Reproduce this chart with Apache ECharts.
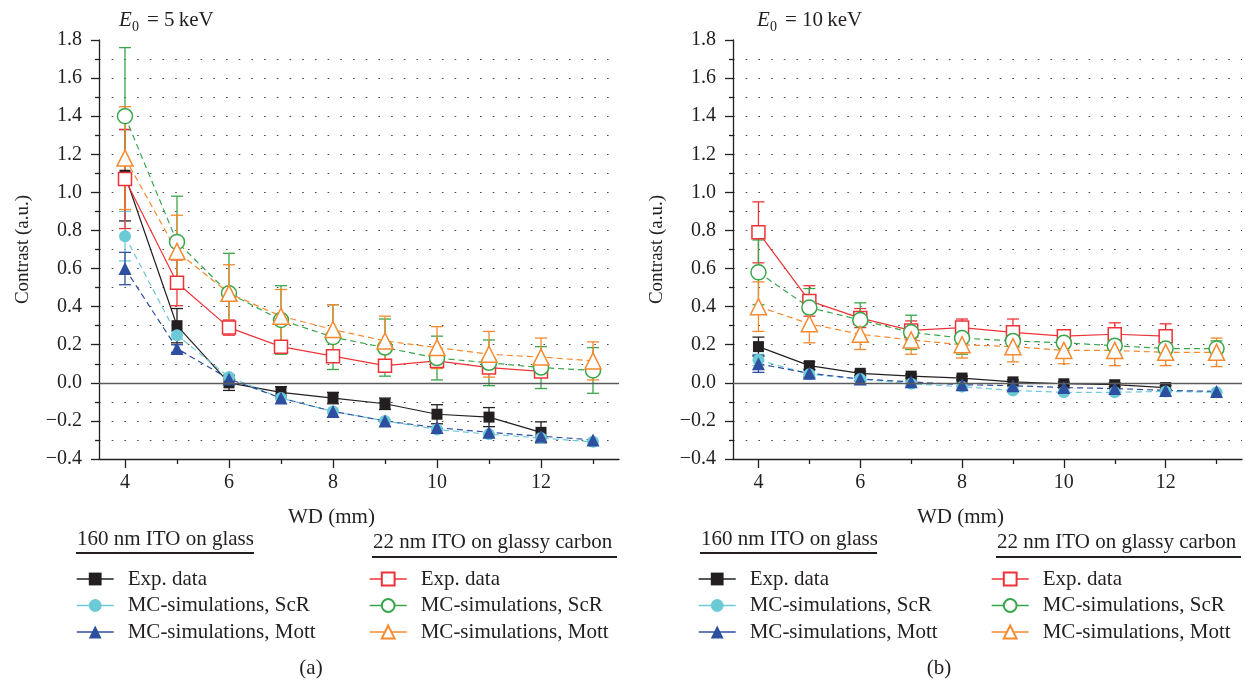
<!DOCTYPE html>
<html>
<head>
<meta charset="utf-8">
<script src="https://cdn.jsdelivr.net/npm/echarts@6/dist/echarts.min.js"></script>
<style>
html, body { margin: 0; padding: 0; background: #fff; }
#chart { width: 1245px; height: 682px; }
</style>
</head>
<body>
<div id="chart"></div>
<script>
// Working distance (mm)
const wd = [4, 5, 6, 7, 8, 9, 10, 11, 12, 13];

// Contrast at E0 = 5 keV — 160 nm ITO on glass
const a_glassExp      = [1.09, 0.30, 0.00, -0.05, -0.08, -0.11, -0.165, -0.18, -0.26, null];
const a_glassExpErr   = [0.24, 0.09, 0.04, 0.03, 0.03, 0.03, 0.05, 0.05, 0.055, null];
const a_glassScR      = [0.77, 0.25, 0.03, -0.08, -0.15, -0.20, -0.245, -0.27, -0.29, -0.31];
const a_glassScRErr   = [0.13, 0.02, 0, 0, 0, 0, 0, 0, 0, 0];
const a_glassMott     = [0.60, 0.18, 0.02, -0.08, -0.15, -0.20, -0.235, -0.26, -0.28, -0.30];
const a_glassMottErr  = [0.085, 0.02, 0, 0, 0, 0, 0, 0, 0, 0];
// Contrast at E0 = 5 keV — 22 nm ITO on glassy carbon
const a_carbonExp     = [1.07, 0.525, 0.29, 0.19, 0.14, 0.09, 0.115, 0.08, 0.06, null];
const a_carbonExpErr  = [0.26, 0.12, 0.04, 0.03, 0.03, 0.03, 0.02, 0.02, 0.02, null];
const a_carbonScR     = [1.40, 0.74, 0.47, 0.33, 0.24, 0.185, 0.13, 0.105, 0.08, 0.065];
const a_carbonScRErr  = [0.36, 0.24, 0.21, 0.18, 0.17, 0.15, 0.115, 0.12, 0.11, 0.12];
const a_carbonMott    = [1.18, 0.69, 0.47, 0.35, 0.28, 0.22, 0.185, 0.15, 0.135, 0.115];
const a_carbonMottErr = [0.27, 0.19, 0.15, 0.14, 0.13, 0.13, 0.11, 0.12, 0.10, 0.10];

// Contrast at E0 = 10 keV — 160 nm ITO on glass
const b_glassExp      = [0.19, 0.09, 0.05, 0.035, 0.025, 0.005, -0.005, -0.01, -0.025, null];
const b_glassExpErr   = [0.05, 0.02, 0.01, 0.01, 0.01, 0.01, 0.01, 0.01, 0.01, null];
const b_glassScR      = [0.12, 0.045, 0.02, -0.005, -0.02, -0.04, -0.05, -0.05, -0.045, -0.05];
const b_glassScRErr   = [0.03, 0.02, 0.01, 0, 0, 0, 0, 0, 0, 0];
const b_glassMott     = [0.10, 0.05, 0.02, 0.005, -0.01, -0.015, -0.025, -0.03, -0.04, -0.045];
const b_glassMottErr  = [0.045, 0.02, 0.01, 0, 0, 0, 0, 0, 0, 0];
// Contrast at E0 = 10 keV — 22 nm ITO on glassy carbon
const b_carbonExp     = [0.79, 0.43, 0.34, 0.275, 0.29, 0.265, 0.245, 0.255, 0.245, null];
const b_carbonExpErr  = [0.16, 0.08, 0.05, 0.05, 0.045, 0.07, 0.025, 0.06, 0.065, null];
const b_carbonScR     = [0.58, 0.395, 0.33, 0.265, 0.235, 0.22, 0.21, 0.195, 0.18, 0.18];
const b_carbonScRErr  = [0.17, 0.10, 0.09, 0.09, 0.085, 0.06, 0.06, 0.05, 0.05, 0.04];
const b_carbonMott    = [0.40, 0.31, 0.255, 0.225, 0.20, 0.19, 0.17, 0.17, 0.16, 0.16];
const b_carbonMottErr = [0.13, 0.10, 0.08, 0.075, 0.07, 0.08, 0.07, 0.08, 0.07, 0.075];

// Axis ticks
const xMajorTicks = [4, 6, 8, 10, 12];
const xMinorTicks = [5, 7, 9, 11, 13];

// Texts
const legendLabels = ['Exp. data', 'MC-simulations, ScR', 'MC-simulations, Mott'];
const groupTitles = ['160 nm ITO on glass', '22 nm ITO on glassy carbon'];

const FONT = "'Liberation Serif', 'Times New Roman', serif";
const INK = '#231f20';
const C = {
  black: '#231f20', cyan: '#6ccad6', blue: '#2e4f9f',
  red: '#ee3338', green: '#3aa64b', orange: '#f6892e'
};

const styles = {
  glassExp:   { color: C.black,  symbol: 'rect',     size: 11, hollow: false, dash: 'solid' },
  glassScR:   { color: C.cyan,   symbol: 'circle',   size: 12, hollow: false, dash: [6, 4] },
  glassMott:  { color: C.blue,   symbol: 'triangle', size: 13, hollow: false, dash: [6, 4] },
  carbonExp:  { color: C.red,    symbol: 'rect',     size: 13, hollow: true,  dash: 'solid' },
  carbonScR:  { color: C.green,  symbol: 'circle',   size: 15, hollow: true,  dash: [6, 4] },
  carbonMott: { color: C.orange, symbol: 'triangle', size: 16, hollow: true,  dash: [6, 4] }
};

const panels = [
  { key: 'a', sets: {
      glassExp: [a_glassExp, a_glassExpErr], glassScR: [a_glassScR, a_glassScRErr],
      glassMott: [a_glassMott, a_glassMottErr], carbonExp: [a_carbonExp, a_carbonExpErr],
      carbonScR: [a_carbonScR, a_carbonScRErr], carbonMott: [a_carbonMott, a_carbonMottErr] } },
  { key: 'b', sets: {
      glassExp: [b_glassExp, b_glassExpErr], glassScR: [b_glassScR, b_glassScRErr],
      glassMott: [b_glassMott, b_glassMottErr], carbonExp: [b_carbonExp, b_carbonExpErr],
      carbonScR: [b_carbonScR, b_carbonScRErr], carbonMott: [b_carbonMott, b_carbonMottErr] } }
];

const order = ['glassExp', 'glassScR', 'glassMott', 'carbonExp', 'carbonScR', 'carbonMott'];
const displayName = {};
order.forEach((k, i) => { displayName[k] = legendLabels[i % 3]; });

function errorSeries(name, color, values, errs, xi, yi) {
  const data = [];
  values.forEach((v, i) => {
    if (v !== null && errs[i]) data.push([wd[i], v - errs[i], v + errs[i]]);
  });
  return {
    type: 'custom', name: name + '-err', xAxisIndex: xi, yAxisIndex: yi, z: 2,
    silent: true, data: data, encode: { x: 0, y: [1, 2] },
    renderItem: function (params, api) {
      const x = api.value(0);
      const p1 = api.coord([x, api.value(1)]);
      const p2 = api.coord([x, api.value(2)]);
      const w = 6;
      const st = { stroke: color, lineWidth: 1.3, fill: null };
      return { type: 'group', children: [
        { type: 'line', shape: { x1: p1[0], y1: p1[1], x2: p2[0], y2: p2[1] }, style: st },
        { type: 'line', shape: { x1: p1[0] - w, y1: p1[1], x2: p1[0] + w, y2: p1[1] }, style: st },
        { type: 'line', shape: { x1: p2[0] - w, y1: p2[1], x2: p2[0] + w, y2: p2[1] }, style: st }
      ] };
    }
  };
}

function lineSeries(name, st, values, xi, yi, withZero) {
  const data = [];
  values.forEach((v, i) => { if (v !== null) data.push([wd[i], v]); });
  const s = {
    type: 'line', name: name, xAxisIndex: xi, yAxisIndex: yi, z: 3,
    data: data, symbol: st.symbol, symbolSize: st.size, showAllSymbol: true,
    lineStyle: { color: st.color, width: 1.2, type: st.dash },
    itemStyle: st.hollow
      ? { color: '#ffffff', borderColor: st.color, borderWidth: 1.5 }
      : { color: st.color, borderWidth: 0 },
    emphasis: { disabled: true }
  };
  if (withZero) {
    s.markLine = {
      silent: true, symbol: 'none', label: { show: false }, animation: false,
      lineStyle: { color: '#5a5b5d', width: 1.3, type: 'solid' },
      data: [{ yAxis: 0 }]
    };
  }
  return s;
}

const grids = [
  { left: 99, top: 40, width: 520, height: 419 },
  { left: 733, top: 40, width: 509, height: 419 }
];

const dotted = { color: '#4a4a4a', width: 1.2, type: [1.6, 11.1] };

const xAxes = [];
const yAxes = [];
grids.forEach((g, gi) => {
  xAxes.push({
    type: 'value', gridIndex: gi, min: 3.5, max: 13.5, position: 'bottom',
    axisLine: { show: true, onZero: false, lineStyle: { color: INK, width: 1.3 } },
    axisTick: { show: true, customValues: xMajorTicks, length: 9, lineStyle: { color: INK, width: 1.3 } },
    axisLabel: { customValues: xMajorTicks, margin: 14, color: INK, fontFamily: FONT, fontSize: 20 },
    splitLine: { show: false }
  });
  xAxes.push({
    type: 'value', gridIndex: gi, min: 3.5, max: 13.5, position: 'bottom', offset: 0,
    axisLine: { show: false, onZero: false },
    axisTick: { show: true, customValues: xMinorTicks, length: 5, lineStyle: { color: INK, width: 1.3 } },
    axisLabel: { show: false },
    splitLine: { show: false }
  });
  yAxes.push({
    type: 'value', gridIndex: gi, min: -0.4, max: 1.8, interval: 0.2,
    name: 'Contrast (a.u.)', nameLocation: 'middle', nameGap: 66,
    nameTextStyle: { color: INK, fontFamily: FONT, fontSize: 19 },
    axisLine: { show: true, lineStyle: { color: INK, width: 1.3 } },
    axisTick: { show: true, length: 8, lineStyle: { color: INK, width: 1.3 } },
    minorTick: { show: true, splitNumber: 2, length: 4, lineStyle: { color: INK, width: 1.3 } },
    axisLabel: {
      margin: 17, color: INK, fontFamily: FONT, fontSize: 20,
      formatter: v => (v < 0 ? '\u2212' : '') + Math.abs(v).toFixed(1)
    },
    splitLine: { show: true, showMinLine: false, showMaxLine: false, lineStyle: dotted },
    minorSplitLine: { show: true, lineStyle: dotted }
  });
});

const series = [];
panels.forEach((p, pi) => {
  const xi = pi * 2, yi = pi;
  order.forEach(k => {
    const [vals, errs] = p.sets[k];
    series.push(errorSeries(p.key + '-' + k, styles[k].color, vals, errs, xi, yi));
  });
  order.forEach((k, i) => {
    const [vals] = p.sets[k];
    series.push(lineSeries(p.key + '-' + k, styles[k], vals, xi, yi, i === 0));
  });
});

// Legends: two groups per panel
const legendBase = {
  orient: 'vertical', itemWidth: 37, itemHeight: 16, itemGap: 4.5, padding: 0,
  selectedMode: false,
  lineStyle: { type: 'solid', width: 1.4 },
  textStyle: { color: INK, fontFamily: FONT, fontSize: 21, lineHeight: 22, padding: [0, 0, 0, 9] },
  formatter: n => displayName[n.split('-')[1]]
};
const legendPos = [
  { left: 76, keys: order.slice(0, 3), p: 'a' },
  { left: 369, keys: order.slice(3), p: 'a' },
  { left: 698, keys: order.slice(0, 3), p: 'b' },
  { left: 991, keys: order.slice(3), p: 'b' }
];
const legends = legendPos.map(l => Object.assign({}, legendBase, {
  left: l.left, top: 568, data: l.keys.map(k => l.p + '-' + k)
}));

// Annotations: energy labels, axis titles, group headers, panel tags
const txt = (x, y, text, extra) => ({
  type: 'text', x: x, y: y, silent: true,
  style: Object.assign({ text: text, fill: INK, font: '21px ' + FONT, verticalAlign: 'middle' }, extra || {})
});
const hline = (x1, x2, y, w) => ({
  type: 'line', silent: true, shape: { x1: x1, y1: y, x2: x2, y2: y },
  style: { stroke: INK, lineWidth: w }
});

const graphics = [
  txt(119, 20, 'E', { font: 'italic 21px ' + FONT }),
  txt(132, 27, '0', { font: '14px ' + FONT }),
  txt(147, 20, '= 5\u2009keV', { font: '21px ' + FONT }),
  txt(757, 20, 'E', { font: 'italic 21px ' + FONT }),
  txt(770, 27, '0', { font: '14px ' + FONT }),
  txt(785, 20, '= 10\u2009keV', { font: '21px ' + FONT }),
  txt(288, 517, 'WD (mm)'),
  txt(917, 517, 'WD (mm)'),
  txt(77, 539, groupTitles[0]),
  hline(76, 254, 553, 2),
  txt(373, 542, groupTitles[1]),
  hline(372, 617, 557, 2),
  txt(701, 539, groupTitles[0]),
  hline(700, 877, 553, 2),
  txt(997, 542, groupTitles[1]),
  hline(996, 1241, 557, 2),
  txt(311, 668, '(a)', { align: 'center' }),
  txt(939, 668, '(b)', { align: 'center' })
];

const chart = echarts.init(document.getElementById('chart'), null, { renderer: 'canvas' });
chart.setOption({
  animation: false,
  backgroundColor: '#fff',
  textStyle: { fontFamily: FONT },
  grid: grids,
  xAxis: xAxes,
  yAxis: yAxes,
  legend: legends,
  series: series,
  graphic: graphics
});
</script>
</body>
</html>
